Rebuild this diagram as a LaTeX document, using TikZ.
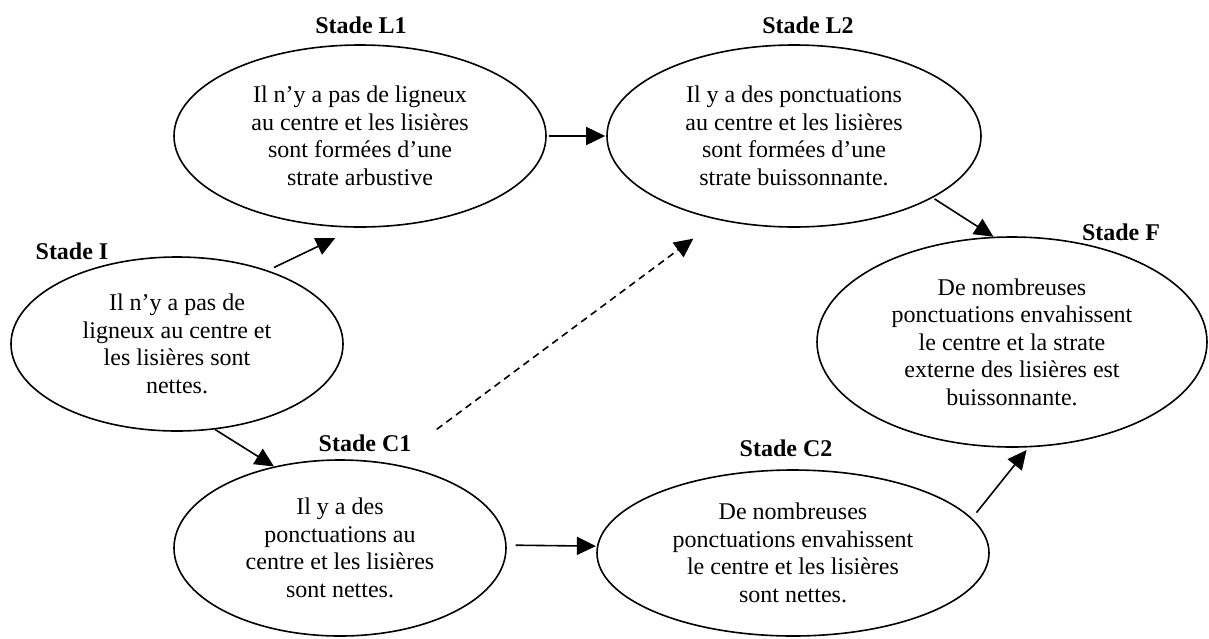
\documentclass[tikz,border=0pt]{standalone}
\usepackage{fontspec}
\setmainfont{Liberation Serif}
\usetikzlibrary{shapes.geometric,arrows.meta}

\begin{document}
\begin{tikzpicture}[x=0.5pt,y=0.5pt,
  stade/.style={draw=black,line width=0.8pt,ellipse,align=center,font=\fontsize{12}{13.75}\selectfont},
  titre/.style={font=\fontsize{12}{13.75}\selectfont\bfseries},
  fleche/.style={draw=black,line width=0.8pt,-{Triangle[length=9.5pt,width=9pt]}}]
\tikzstyle{every node}+=[inner sep=0pt]
\useasboundingbox (0,0) rectangle (1209,-638);
% stades
\node [stade,minimum width=166pt,minimum height=87pt] (I) at (177,-344) {Il n’y a pas de\\ligneux au centre et\\les lisières sont\\nettes.};
\node [stade,minimum width=186pt,minimum height=91pt] (L1) at (360,-136) {Il n’y a pas de ligneux\\au centre et les lisières\\sont formées d’une\\strate arbustive};
\node [stade,minimum width=187pt,minimum height=91pt] (L2) at (794,-136) {Il y a des ponctuations\\au centre et les lisières\\sont formées d’une\\strate buissonnante.};
\node [stade,minimum width=195pt,minimum height=105pt] (F) at (1012,-342) {De nombreuses\\ponctuations envahissent\\le centre et la strate\\externe des lisières est\\buissonnante.};
\node [stade,minimum width=166pt,minimum height=88pt] (C1) at (340,-548) {Il y a des\\ponctuations au\\centre et les lisières\\sont nettes.};
\node [stade,minimum width=196pt,minimum height=83pt] (C2) at (793,-553) {De nombreuses\\ponctuations envahissent\\le centre et les lisières\\sont nettes.};
% titres
\node [titre] (tI) at (72,-251) {Stade I};
\node [titre] (tL1) at (361,-25) {Stade L1};
\node [titre] (tL2) at (808,-25) {Stade L2};
\node [titre] (tF) at (1121,-232) {Stade F};
\node [titre] (tC1) at (365,-443) {Stade C1};
\node [titre] (tC2) at (786,-448) {Stade C2};
% transitions
\draw [fleche,shorten <=3.4pt,shorten >=12pt] (I.39) -- (L1.268);
\draw [fleche,shorten <=1pt,shorten >=0.5pt] (L1.east) -- (L2.west);
\draw [fleche,shorten <=1pt] (L2.336) -- (F.100);
\draw [fleche] (I.294) -- (C1.129);
\draw [fleche,dash pattern=on 3.5pt off 2.5pt,shorten <=28.6pt,shorten >=15.6pt] (C1.59) -- (L2.228);
\draw [fleche,shorten <=4.5pt,shorten >=0.5pt] (C1.1) -- (C2.178);
\draw [fleche,shorten <=3.6pt,shorten >=1.7pt] (C2.11) -- (F.279);
\end{tikzpicture}
\end{document}
